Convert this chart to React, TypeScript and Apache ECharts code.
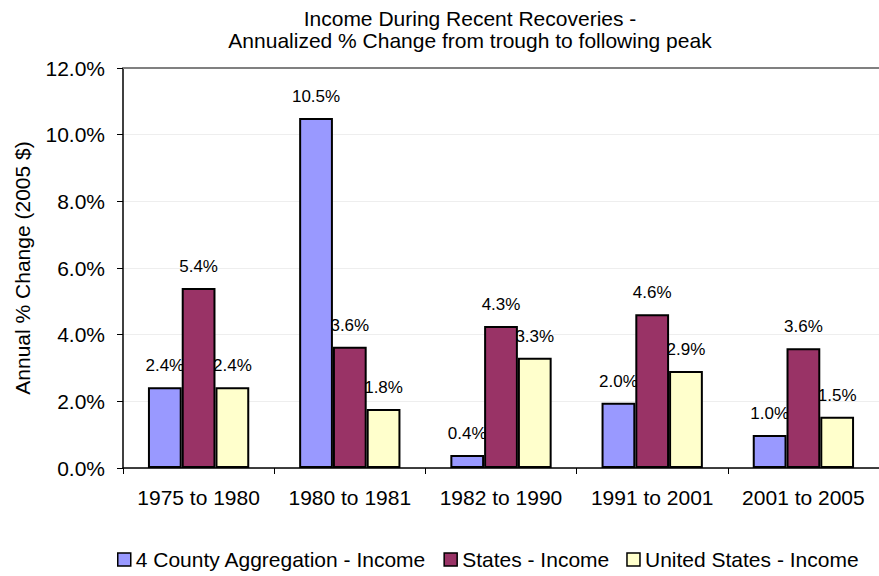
import React, { useEffect, useRef } from "react";
import * as echarts from "echarts";

const categories = ["1975 to 1980", "1980 to 1981", "1982 to 1990", "1991 to 2001", "2001 to 2005"];
const seriesNames = ["4 County Aggregation - Income", "States - Income", "United States - Income"];
const countyValues = [2.42, 10.5, 0.39, 1.96, 0.99];
const statesValues = [5.4, 3.64, 4.26, 4.61, 3.59];
const usValues = [2.42, 1.77, 3.31, 2.91, 1.54];
const yTicks = { min: 0, max: 12, interval: 2 };
const titleLines = ["Income During Recent Recoveries -", "Annualized % Change from trough to following peak"];
const yAxisName = "Annual % Change (2005 $)";

const colors = ["#9999FF", "#993366", "#FFFFCC"];
const FONT = "'Liberation Sans', Arial, sans-serif";

export default function App() {
  const ref = useRef<HTMLDivElement>(null);
  useEffect(() => {
    if (!ref.current) return;
    const chart = echarts.init(ref.current, undefined, { renderer: "svg" });
    const data = [countyValues, statesValues, usValues];
    const fmt = (v: number) => v.toFixed(1) + "%";
    const barSeries = data.map((vals, i) => ({
      name: seriesNames[i],
      type: "bar",
      xAxisIndex: 0,
      data: vals,
      z: 3,
      barGap: "0%",
      barCategoryGap: "33%",
      itemStyle: { color: colors[i], borderColor: "#000", borderWidth: 2 },
    }));
    const labelSeries = data.map((vals, i) => ({
      name: "lbl" + i,
      type: "bar",
      xAxisIndex: 1,
      data: vals,
      z: 1,
      barGap: "0%",
      barCategoryGap: "33%",
      silent: true,
      itemStyle: { color: "rgba(0,0,0,0)", borderWidth: 0 },
      label: {
        show: true,
        position: "top",
        distance: 13,
        formatter: (p: any) => fmt(p.value),
        color: "#000",
        fontSize: 17,
        fontFamily: FONT,
      },
    }));
    chart.setOption({
      animation: false,
      backgroundColor: "#fff",
      textStyle: { fontFamily: FONT },
      graphic: [
        {
          type: "text",
          x: 470,
          y: 7,
          style: {
            text: titleLines.join("\n"),
            font: `21px ${FONT}`,
            fill: "#000",
            align: "center",
            verticalAlign: "top",
            lineHeight: 22,
          },
        },
      ],
      legend: {
        data: seriesNames,
        left: 112,
        top: 544,
        icon: "rect",
        itemWidth: 13,
        itemHeight: 13,
        itemGap: 17,
        itemStyle: { borderColor: "#000", borderWidth: 1.5 },
        textStyle: { fontSize: 21, color: "#000", fontFamily: FONT },
      },
      grid: { left: 123, right: 0, top: 68, bottom: 108, containLabel: false },
      xAxis: [
        {
          type: "category",
          data: categories,
          position: "bottom",
          axisLine: { lineStyle: { color: "#000", width: 1.5 } },
          axisTick: { show: true, length: 6, lineStyle: { color: "#000" } },
          axisLabel: { color: "#000", fontSize: 21, margin: 19, fontFamily: FONT, interval: 0 },
        },
        {
          type: "category",
          data: categories,
          position: "top",
          axisLine: { show: true, lineStyle: { color: "#808080", width: 2 } },
          axisTick: { show: false },
          axisLabel: { show: false },
        },
      ],
      yAxis: {
        type: "value",
        min: yTicks.min,
        max: yTicks.max,
        interval: yTicks.interval,
        name: yAxisName,
        nameLocation: "middle",
        nameGap: 90,
        nameTextStyle: { fontSize: 21, color: "#000", fontFamily: FONT },
        axisLine: { show: true, lineStyle: { color: "#000", width: 1.5 } },
        axisTick: { show: true, length: 6, lineStyle: { color: "#000" } },
        axisLabel: { color: "#000", fontSize: 21, margin: 18, fontFamily: FONT, formatter: (v: number) => fmt(v) },
        splitLine: { show: true, lineStyle: { color: "#eeeeee", width: 1 } },
      },
      series: [...labelSeries, ...barSeries],
    });
    return () => chart.dispose();
  }, []);
  return (
    <div
      ref={ref}
      style={{ position: "fixed", left: 0, top: 0, width: 879, height: 576, background: "#fff" }}
    />
  );
}
